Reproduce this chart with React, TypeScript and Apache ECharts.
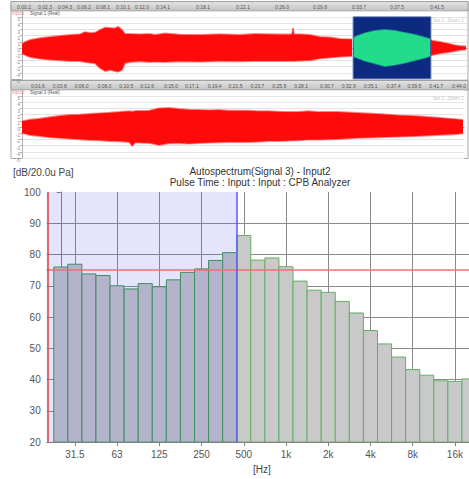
import React, { useEffect, useRef } from 'react';
import * as echarts from 'echarts';

// ---------- Spectrum (1/3 octave CPB) ----------
const bands = ['25', '31.5', '40', '50', '63', '80', '100', '125', '160', '200', '250', '315', '400', '500', '630', '800', '1k', '1.25k', '1.6k', '2k', '2.5k', '3.15k', '4k', '5k', '6.3k', '8k', '10k', '12.5k', '16k', '20k'];
const levels = [76.0, 76.9, 73.8, 73.3, 70.0, 69.0, 70.7, 69.7, 71.9, 74.3, 75.4, 78.1, 80.6, 86.1, 78.2, 78.9, 76.1, 71.5, 68.6, 67.9, 65.0, 61.3, 55.7, 51.4, 47.2, 43.2, 41.4, 39.6, 39.4, 40.2];
const octaveTickIdx = [1, 4, 7, 10, 13, 16, 19, 22, 25, 28];
const yTicks = [20, 30, 40, 50, 60, 70, 80, 90, 100];
const refLevel = 75;
const selectionStart = -0.93;
const selectionEnd = 12.5;

// ---------- Signal 1 (time in s, amplitude) ----------
const p1TimeA = [0, 0.3, 0.8, 1.8, 2.8, 3.8, 4.8, 5.8, 6.3, 6.8, 7.3, 7.8, 8.3, 8.8, 9.3, 9.6, 10, 10.3, 10.8, 11.8, 12.8, 13.3, 14.3, 15.8, 17.8, 19.8, 21.8, 23.3, 25.8, 27, 27.1, 27.2, 27.8, 28.8, 29.8, 30.8, 31.8, 33];
const p1UpperA = [0.61, 0.99, 1.31, 1.59, 1.80, 1.96, 2.12, 2.23, 2.6, 2.44, 2.49, 2.93, 3.30, 3.25, 3.17, 3.46, 2.93, 2.28, 2.28, 2.23, 2.28, 2.12, 2.36, 2.17, 2.12, 2.23, 2.12, 2.28, 2.20, 2.20, 3.25, 2.20, 2.23, 2.12, 1.80, 1.72, 1.47, 1.42];
const p1LowerA = [-0.84, -1.12, -1.44, -1.72, -1.88, -1.97, -2.09, -2.09, -2.25, -2.36, -2.46, -3.22, -3.71, -3.54, -3.71, -3.82, -3.54, -2.41, -2.25, -2.14, -2.25, -2.20, -2.25, -2.14, -2.20, -2.09, -2.14, -2.09, -2.09, -2.09, -2.09, -2.09, -2.04, -1.97, -1.68, -1.52, -1.39, -1.28];
const p1TimeG = [33.2, 33.3, 34.3, 35.3, 36.3, 37.3, 38.3, 39.3, 40.3, 40.8];
const p1UpperG = [1.42, 1.80, 2.39, 2.77, 2.93, 2.77, 2.44, 2.12, 1.68, 1.47];
const p1LowerG = [-1.28, -1.44, -2.04, -2.46, -2.90, -2.69, -2.36, -1.93, -1.55, -1.28];
const p1TimeB = [40.9, 41, 41.8, 42.8, 43.3, 43.8, 44.4];
const p1UpperB = [1.3, 1.20, 0.99, 0.66, 0.45, 0.34, 0.26];
const p1LowerB = [-1.2, -1.12, -0.84, -0.63, -0.47, -0.31, -0.23];
const p1Selection = [33.1, 40.9];
const p1SelectionTop = 5.08;
const p1HeaderTicks = [0.2, 2.3, 4.3, 6.2, 8.1, 10.1, 12, 14.1, 18.1, 22.1, 26, 29.8, 33.7, 37.5, 41.5];

// ---------- Signal 3 ----------
const p2Time = [0, 0.8, 1.8, 2.8, 3.8, 4.8, 5.8, 6.8, 7.8, 8.8, 9.8, 10.8, 11.1, 11.4, 11.8, 12.8, 13.8, 14.8, 15.8, 16.8, 17.8, 18.8, 19.8, 20.8, 21.8, 22.8, 23.8, 24.8, 25.8, 26.8, 27.8, 28.8, 29.8, 31.8, 33.8, 35.8, 37.8, 39.8, 41.8, 43.8, 44.4];
const p2Upper = [0.94, 1.20, 1.36, 1.59, 1.80, 1.96, 2.01, 2.12, 2.23, 2.33, 2.44, 2.56, 2.5, 2.6, 2.61, 2.65, 3.04, 3.09, 2.93, 2.82, 2.77, 2.72, 2.77, 2.65, 2.65, 2.65, 2.56, 2.56, 2.49, 2.44, 2.44, 2.56, 2.44, 2.44, 2.28, 2.12, 1.91, 1.75, 1.52, 1.26, 1.15];
const p2Lower = [-0.95, -1.28, -1.44, -1.65, -1.76, -1.88, -1.97, -2.09, -2.14, -2.25, -2.30, -2.41, -3.06, -2.45, -2.52, -2.57, -2.90, -2.62, -2.57, -2.69, -2.57, -2.52, -2.46, -2.41, -2.41, -2.41, -2.36, -2.25, -2.25, -2.20, -2.14, -2.04, -2.04, -1.93, -1.76, -1.65, -1.55, -1.44, -1.28, -1.12, -1.00];
const p2HeaderTicks = [1.6, 3.8, 6, 8.3, 10.5, 12.6, 15, 17.1, 19.4, 21.5, 23.7, 25.9, 28.1, 30.7, 32.9, 35.1, 37.4, 39.5, 41.7, 44];

const FONT = 'Liberation Sans';

const zip = (t: number[], v: number[]) => t.map((x, i) => [x, v[i]]);

const fmtTime = (v: number) => {
  const s = Math.round(v * 10) / 10;
  return '0:' + (s < 10 ? '0' : '') + s.toFixed(1);
};

function wave(xi: number, t: number[], v: number[], color: string, edge: string, extra: any = {}) {
  return {
    type: 'line',
    xAxisIndex: xi,
    yAxisIndex: xi,
    data: zip(t, v),
    showSymbol: false,
    symbol: 'none',
    silent: true,
    lineStyle: { color: edge, width: 1.8 },
    areaStyle: { color, opacity: 1, origin: 'auto' },
    z: 3,
    ...extra,
  };
}

function panelX(grid: number, ticks: number[]) {
  return {
    type: 'value',
    gridIndex: grid,
    min: 0,
    max: 44.5,
    position: 'top',
    axisLine: { show: true, lineStyle: { color: '#9a9a9a' } },
    axisTick: { show: true, customValues: ticks, length: 2, lineStyle: { color: '#777' } },
    axisLabel: { show: true, customValues: ticks, fontSize: 5, color: '#555', margin: 2, fontFamily: FONT, formatter: (v: number) => fmtTime(v) },
    splitLine: { show: false },
  };
}

function panelY(grid: number) {
  return {
    type: 'value',
    gridIndex: grid,
    min: -5,
    max: 6,
    interval: 1,
    axisLine: { show: true, lineStyle: { color: '#b0b0b0' } },
    axisTick: { show: true, length: 2, lineStyle: { color: '#b0b0b0' } },
    axisLabel: { fontSize: 4.5, color: '#888', margin: 2, fontFamily: FONT, showMaxLabel: false, verticalAlign: 'top' },
    splitLine: { show: true, lineStyle: { color: '#e4e4e4', width: 1 } },
  };
}

export default function App() {
  const ref = useRef<HTMLDivElement>(null);
  useEffect(() => {
    if (!ref.current) return;
    const chart = echarts.init(ref.current, undefined, { renderer: 'svg' });
    const headerGrad = new echarts.graphic.LinearGradient(0, 0, 0, 1, [
      { offset: 0, color: '#e4e4e4' },
      { offset: 1, color: '#c2c2c2' },
    ]);
    const red = '#ff0a0a';
    const redEdge = 'rgba(255,20,20,0.5)';
    const green = '#22dc8c';
    const greenEdge = 'rgba(40,225,150,0.55)';
    const option: any = {
      animation: false,
      backgroundColor: '#ffffff',
      textStyle: { fontFamily: FONT },
      title: {
        text: 'Autospectrum(Signal 3) - Input2',
        subtext: 'Pulse Time : Input : Input : CPB Analyzer',
        left: 255,
        top: 161,
        textAlign: 'center',
        itemGap: 1,
        textStyle: { fontSize: 10, fontWeight: 'normal', color: '#333', fontFamily: FONT },
        subtextStyle: { fontSize: 10, color: '#333', fontFamily: FONT },
      },
      graphic: [
        { type: 'rect', z: -2, shape: { x: 11, y: 1.5, width: 457, height: 78 }, style: { fill: '#ffffff', stroke: '#a8a8a8', lineWidth: 1 } },
        { type: 'rect', z: -2, shape: { x: 11, y: 80.5, width: 457, height: 78 }, style: { fill: '#ffffff', stroke: '#a8a8a8', lineWidth: 1 } },
        { type: 'rect', z: -1, shape: { x: 11, y: 1.5, width: 457, height: 9.5 }, style: { fill: headerGrad, stroke: '#a0a0a0', lineWidth: 1 } },
        { type: 'rect', z: -1, shape: { x: 11, y: 80.5, width: 457, height: 9.5 }, style: { fill: headerGrad, stroke: '#a0a0a0', lineWidth: 1 } },
        { type: 'text', z: 10, x: 12, y: 11.3, style: { text: 'Input1', fontSize: 4.5, fill: '#f08a8a', fontFamily: FONT } },
        { type: 'text', z: 10, x: 30, y: 11.3, style: { text: 'Signal 1 (Real)', fontSize: 4.5, fill: '#555', fontFamily: FONT } },
        { type: 'text', z: 10, x: 433, y: 17, style: { text: 'Sel 1  Zoom 1', fontSize: 5, fill: '#c8c8c8', fontFamily: FONT } },
        { type: 'text', z: 10, x: 12, y: 90.3, style: { text: 'Input2', fontSize: 4.5, fill: '#f08a8a', fontFamily: FONT } },
        { type: 'text', z: 10, x: 30, y: 90.3, style: { text: 'Signal 3 (Real)', fontSize: 4.5, fill: '#555', fontFamily: FONT } },
        { type: 'text', z: 10, x: 433, y: 95, style: { text: 'Sel 1  Zoom 1', fontSize: 5, fill: '#c8c8c8', fontFamily: FONT } },
        { type: 'text', z: 10, x: 13, y: 167, style: { text: '[dB/20.0u Pa]', fontSize: 10, fill: '#444', fontFamily: FONT } },
      ],
      grid: [
        { left: 22, top: 11, width: 445, height: 68 },
        { left: 22, top: 90, width: 445, height: 68 },
        { left: 46.7, top: 192, right: 0, bottom: 29 },
      ],
      xAxis: [
        panelX(0, p1HeaderTicks),
        panelX(1, p2HeaderTicks),
        {
          type: 'value',
          gridIndex: 2,
          min: -1,
          max: 29,
          name: '[Hz]',
          nameLocation: 'middle',
          nameGap: 20,
          nameTextStyle: { fontSize: 10, color: '#444', fontFamily: FONT, padding: [0, 0, 0, 8] },
          axisLine: { show: true, onZero: false, lineStyle: { color: '#808080' } },
          axisTick: { show: true, customValues: octaveTickIdx, length: 4, lineStyle: { color: '#808080' } },
          axisLabel: { show: true, customValues: octaveTickIdx, fontSize: 10, color: '#555', margin: 7, fontFamily: FONT, formatter: (v: number) => bands[Math.round(v)] },
          splitLine: { show: true, lineStyle: { color: '#8a8a8a', width: 1 } },
        },
      ],
      yAxis: [
        panelY(0),
        panelY(1),
        {
          type: 'value',
          gridIndex: 2,
          min: 20,
          max: 100,
          interval: 10,
          axisLine: { show: true, lineStyle: { color: '#808080' } },
          axisTick: { show: true, length: 4, lineStyle: { color: '#808080' } },
          axisLabel: { fontSize: 10, color: '#555', margin: 6, fontFamily: FONT },
          splitLine: { show: true, lineStyle: { color: yTicks.map((v) => (v === 100 ? 'rgba(0,0,0,0)' : '#8a8a8a')), width: 1 } },
        },
      ],
      series: [
        wave(0, p1TimeA, p1UpperA, red, redEdge, {
          markArea: {
            silent: true,
            itemStyle: { color: '#0c2b80', borderColor: '#8a96c4', borderWidth: 1 },
            data: [[{ xAxis: p1Selection[0], yAxis: p1SelectionTop }, { xAxis: p1Selection[1], yAxis: -5 }]],
          },
        }),
        wave(0, p1TimeA, p1LowerA, red, redEdge),
        wave(0, p1TimeG, p1UpperG, green, greenEdge, { z: 4 }),
        wave(0, p1TimeG, p1LowerG, green, greenEdge, { z: 4 }),
        wave(0, p1TimeB, p1UpperB, red, redEdge),
        wave(0, p1TimeB, p1LowerB, red, redEdge),
        wave(1, p2Time, p2Upper, red, redEdge),
        wave(1, p2Time, p2Lower, red, redEdge),
        {
          type: 'custom',
          xAxisIndex: 2,
          yAxisIndex: 2,
          silent: true,
          clip: true,
          data: levels.map((v, i) => [i, v]),
          renderItem: (params: any, api: any) => {
            const i = api.value(0);
            const v = api.value(1);
            const tl = api.coord([i - 0.5, v]);
            const br = api.coord([i + 0.5, 20]);
            const sel = i < selectionEnd;
            return {
              type: 'rect',
              shape: { x: tl[0], y: tl[1], width: br[0] - tl[0], height: br[1] - tl[1] },
              style: { fill: sel ? '#b3b3cb' : '#c9c9c9', stroke: sel ? '#3f8f5f' : '#62b062', lineWidth: 1 },
            };
          },
          markArea: {
            silent: true,
            itemStyle: { color: 'rgba(90,90,240,0.16)' },
            data: [[{ xAxis: -1, yAxis: 20 }, { xAxis: selectionEnd, yAxis: 100 }]],
          },
          markLine: {
            silent: true,
            symbol: 'none',
            label: { show: false },
            data: [
              { yAxis: refLevel, lineStyle: { color: '#f07070', width: 1.5, type: 'solid' } },
              { xAxis: selectionStart, lineStyle: { color: '#dd4040', width: 1.5, type: 'solid' } },
              { xAxis: selectionEnd, lineStyle: { color: '#5a5aee', width: 1.5, type: 'solid' } },
            ],
          },
        },
      ],
    };
    chart.setOption(option);
    return () => chart.dispose();
  }, []);
  return <div ref={ref} style={{ position: 'absolute', left: 0, top: 0, width: 469, height: 479 }} />;
}
